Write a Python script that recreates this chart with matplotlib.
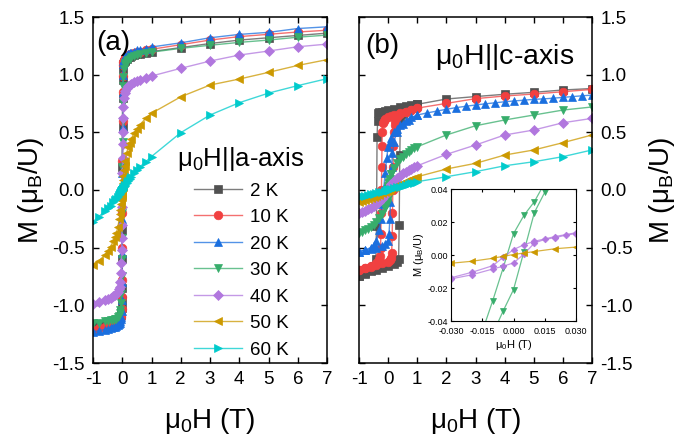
import matplotlib.pyplot as plt
from matplotlib.colors import to_rgba
from matplotlib.ticker import FormatStrFormatter

plt.rcParams['font.family'] = ['Liberation Sans', 'DejaVu Sans']
plt.rcParams['mathtext.default'] = 'regular'
plt.rcParams['axes.unicode_minus'] = False

# --- Data ---

TEMPS = ['2 K', '10 K', '20 K', '30 K', '40 K', '50 K', '60 K']

# panel (a): H || a-axis, field sweep 7 T -> -1 T
H_A = [7, 6, 5, 4, 3, 2, 1, 0.8, 0.6, 0.5, 0.4, 0.3, 0.25, 0.2, 0.15, 0.1, 0.08, 0.06,
       0.04, 0.03, 0.02, 0.015, 0.01, 0.005, 0.0, -0.005, -0.01, -0.015, -0.02, -0.03,
       -0.04, -0.06, -0.08, -0.1, -0.15, -0.2, -0.25, -0.3, -0.4, -0.5, -0.6, -0.8, -1.0]

M_A_2K = [1.36, 1.34, 1.32, 1.30, 1.27, 1.235, 1.20, 1.19, 1.18, 1.175, 1.17, 1.16, 1.155,
          1.15, 1.14, 1.13, 1.12, 1.11, 1.09, 1.05, 0.95, 0.8, 0.55, 0.2, -0.35, -0.6, -0.85,
          -0.95, -1.02, -1.06, -1.08, -1.10, -1.11, -1.12, -1.13, -1.14, -1.145, -1.15,
          -1.155, -1.16, -1.165, -1.175, -1.185]
M_A_10K = [1.385, 1.37, 1.35, 1.33, 1.30, 1.26, 1.22, 1.21, 1.20, 1.195, 1.19, 1.18, 1.175,
           1.17, 1.16, 1.15, 1.14, 1.13, 1.11, 1.08, 0.99, 0.85, 0.6, 0.25, -0.2, -0.5, -0.78,
           -0.93, -1.03, -1.08, -1.10, -1.12, -1.13, -1.14, -1.15, -1.16, -1.165, -1.17,
           -1.18, -1.185, -1.19, -1.20, -1.21]
M_A_20K = [1.415, 1.40, 1.367, 1.349, 1.32, 1.276, 1.24, 1.225, 1.215, 1.21, 1.20, 1.19,
           1.185, 1.18, 1.17, 1.16, 1.15, 1.14, 1.12, 1.09, 1.0, 0.85, 0.55, 0.15, -0.25,
           -0.55, -0.8, -0.95, -1.05, -1.10, -1.12, -1.14, -1.15, -1.16, -1.17, -1.18,
           -1.185, -1.19, -1.20, -1.205, -1.21, -1.22, -1.23]
M_A_30K = [1.343, 1.325, 1.30, 1.28, 1.255, 1.228, 1.195, 1.185, 1.175, 1.17, 1.16, 1.15,
           1.14, 1.13, 1.12, 1.10, 1.08, 1.05, 0.98, 0.9, 0.75, 0.6, 0.42, 0.2, 0.0, -0.2,
           -0.42, -0.6, -0.75, -0.9, -0.98, -1.04, -1.07, -1.09, -1.105, -1.115, -1.12,
           -1.125, -1.13, -1.135, -1.14, -1.15, -1.155]
M_A_40K = [1.265, 1.242, 1.205, 1.17, 1.118, 1.055, 0.988, 0.97, 0.955, 0.945, 0.935, 0.92,
           0.91, 0.9, 0.885, 0.86, 0.84, 0.8, 0.72, 0.62, 0.5, 0.4, 0.28, 0.15, 0.0, -0.15,
           -0.3, -0.42, -0.52, -0.63, -0.72, -0.8, -0.84, -0.86, -0.885, -0.9, -0.91, -0.92,
           -0.935, -0.945, -0.955, -0.97, -0.99]
M_A_50K = [1.13, 1.08, 1.02, 0.962, 0.91, 0.808, 0.665, 0.62, 0.565, 0.53, 0.49, 0.44, 0.41,
           0.37, 0.32, 0.25, 0.21, 0.17, 0.12, 0.09, 0.06, 0.045, 0.03, 0.015, 0.0, -0.015,
           -0.03, -0.045, -0.06, -0.09, -0.12, -0.17, -0.21, -0.25, -0.32, -0.37, -0.41,
           -0.44, -0.49, -0.53, -0.565, -0.615, -0.65]
M_A_60K = [0.965, 0.905, 0.84, 0.757, 0.65, 0.497, 0.29, 0.245, 0.2, 0.175, 0.145, 0.11,
           0.093, 0.075, 0.057, 0.04, 0.032, 0.024, 0.016, 0.012, 0.008, 0.006, 0.004, 0.002,
           0.0, -0.002, -0.004, -0.006, -0.008, -0.012, -0.016, -0.024, -0.032, -0.04, -0.057,
           -0.075, -0.09, -0.105, -0.135, -0.16, -0.185, -0.23, -0.275]

# panel (b): H || c-axis, down sweep (7 T -> -1 T) and up sweep (-1 T -> 1 T)
H_B_2K_DN = [7, 6, 5, 4, 3, 2, 1, 0.8, 0.6, 0.4, 0.2, 0, -0.1, -0.2, -0.3, -0.34, -0.36,
             -0.38, -0.4, -0.42, -0.5, -0.6, -0.8, -1]
M_B_2K_DN = [0.88, 0.867, 0.847, 0.83, 0.81, 0.789, 0.743, 0.735, 0.726, 0.716, 0.705,
             0.695, 0.688, 0.68, 0.672, 0.665, 0.6, 0.457, -0.31, -0.6, -0.66, -0.69, -0.72,
             -0.745]
H_B_2K_UP = [-1, -0.8, -0.6, -0.4, -0.2, 0, 0.2, 0.3, 0.36, 0.38, 0.4, 0.42, 0.5, 0.6, 0.8, 1]
M_B_2K_UP = [-0.745, -0.725, -0.705, -0.69, -0.675, -0.66, -0.64, -0.62, -0.6, -0.3, 0.3,
             0.6, 0.66, 0.69, 0.72, 0.743]

H_B_10K_DN = [7, 6, 5, 4, 3, 2, 1, 0.8, 0.6, 0.4, 0.2, 0.1, 0, -0.1, -0.15, -0.18, -0.2,
              -0.21, -0.22, -0.23, -0.24, -0.25, -0.26, -0.28, -0.3, -0.4, -0.6, -0.8, -1]
M_B_10K_DN = [0.872, 0.852, 0.832, 0.815, 0.792, 0.751, 0.71, 0.695, 0.68, 0.665, 0.65,
              0.64, 0.63, 0.615, 0.6, 0.58, 0.5, 0.38, 0.2, 0.0, -0.2, -0.38, -0.5, -0.57,
              -0.6, -0.63, -0.66, -0.68, -0.69]
H_B_10K_UP = [-1, -0.8, -0.6, -0.4, -0.2, 0, 0.05, 0.1, 0.12, 0.14, 0.15, 0.16, 0.17, 0.18,
              0.2, 0.22, 0.25, 0.3, 0.4, 0.6, 0.8, 1]
M_B_10K_UP = [-0.69, -0.68, -0.665, -0.65, -0.635, -0.62, -0.61, -0.59, -0.55, -0.4, -0.2,
              0.0, 0.2, 0.38, 0.5, 0.56, 0.6, 0.63, 0.655, 0.68, 0.695, 0.71]

H_B_20K_DN = [7, 6.67, 6.33, 6, 5.67, 5.33, 5, 4.67, 4.33, 4, 3.67, 3.33, 3, 2.67, 2.33, 2,
              1.67, 1.33, 1, 0.8, 0.6, 0.4, 0.3, 0.2, 0.1, 0.05, 0, -0.05, -0.1, -0.15, -0.2,
              -0.25, -0.3, -0.4, -0.5, -0.6, -0.8, -1]
M_B_20K_DN = [0.823, 0.817, 0.81, 0.803, 0.796, 0.79, 0.786, 0.779, 0.772, 0.765, 0.756,
              0.747, 0.737, 0.726, 0.714, 0.70, 0.684, 0.668, 0.65, 0.63, 0.6, 0.56, 0.53,
              0.5, 0.45, 0.42, 0.37, 0.28, 0.15, 0.02, -0.12, -0.25, -0.35, -0.44, -0.48,
              -0.5, -0.52, -0.535]
H_B_20K_UP = [-1, -0.8, -0.6, -0.4, -0.2, -0.1, 0, 0.03, 0.06, 0.08, 0.1, 0.12, 0.15, 0.2,
              0.3, 0.5, 0.7, 1]
M_B_20K_UP = [-0.535, -0.52, -0.51, -0.5, -0.485, -0.47, -0.44, -0.38, -0.25, -0.1, 0.05,
              0.2, 0.32, 0.42, 0.5, 0.57, 0.61, 0.65]

H_B_DN = [7, 6, 5, 4, 3, 2, 1, 0.9, 0.8, 0.7, 0.6, 0.5, 0.4, 0.3, 0.2, 0.1, 0.05, 0.03, 0.02,
          0.01, 0.005, 0, -0.005, -0.01, -0.02, -0.03, -0.05, -0.1, -0.2, -0.3, -0.4, -0.5,
          -0.6, -0.7, -0.8, -0.9, -1]
M_B_30K_DN = [0.72, 0.693, 0.65, 0.607, 0.557, 0.477, 0.375, 0.36, 0.345, 0.328, 0.31, 0.29,
              0.265, 0.235, 0.195, 0.14, 0.095, 0.07, 0.055, 0.0323, 0.024, 0.0129, -0.008,
              -0.0278, -0.065, -0.085, -0.11, -0.15, -0.205, -0.245, -0.275, -0.3, -0.32,
              -0.335, -0.35, -0.36, -0.37]
M_B_40K_DN = [0.621, 0.583, 0.52, 0.477, 0.39, 0.309, 0.21, 0.198, 0.185, 0.172, 0.16, 0.145,
              0.125, 0.105, 0.08, 0.048, 0.026, 0.0135, 0.0112, 0.0083, 0.0062, 0.0033,
              -0.0015, -0.0065, -0.0105, -0.0138, -0.024, -0.046, -0.076, -0.1, -0.12, -0.137,
              -0.152, -0.165, -0.178, -0.19, -0.2]
M_B_50K_DN = [0.477, 0.41, 0.347, 0.303, 0.231, 0.182, 0.115, 0.105, 0.095, 0.085, 0.075,
              0.065, 0.055, 0.043, 0.03, 0.015, 0.008, 0.0048, 0.0038, 0.0021, 0.0012, 0.0003,
              -0.0008, -0.002, -0.0038, -0.005, -0.008, -0.015, -0.03, -0.042, -0.053, -0.063,
              -0.072, -0.08, -0.088, -0.097, -0.105]
M_B_60K_DN = [0.347, 0.289, 0.245, 0.21, 0.159, 0.115, 0.072, 0.065, 0.058, 0.051, 0.044,
              0.037, 0.03, 0.022, 0.015, 0.008, 0.004, 0.0024, 0.0016, 0.0008, 0.0004, 0.0,
              -0.0004, -0.0008, -0.0016, -0.0024, -0.004, -0.008, -0.015, -0.021, -0.027,
              -0.033, -0.039, -0.044, -0.049, -0.054, -0.058]

H_B_UP = [-0.1, -0.05, -0.03, -0.02, -0.01, -0.005, 0, 0.005, 0.01, 0.015, 0.02, 0.025, 0.03,
          0.05, 0.1]
M_B_30K_UP = [-0.16, -0.125, -0.1, -0.075, -0.048, -0.034, -0.021, 0.002, 0.0257, 0.038,
              0.05, 0.058, 0.065, 0.09, 0.14]
M_B_40K_UP = [-0.047, -0.028, -0.0145, -0.012, -0.0085, -0.0068, -0.0048, 0.0005, 0.0072,
              0.0095, 0.0105, 0.012, 0.013, 0.025, 0.048]

COLORS = ['#515151', '#F14040', '#1A6FDF', '#37AD6B', '#B177DE', '#CC9900', '#00CBCC']
MARKERS = ['s', 'o', '^', 'v', 'D', '<', '>']


def draw(ax, h, m, i, ms=6.2, lw=1.0, label=None):
    size = ms * 0.85 if MARKERS[i] == 'D' else ms
    ax.plot(h, m, color=to_rgba(COLORS[i], 0.75), lw=lw, marker=MARKERS[i], ms=size,
            mfc=COLORS[i], mec=COLORS[i], mew=0.5, label=label)


def style_main(ax):
    ax.set_xlim(-1, 7)
    ax.set_ylim(-1.5, 1.5)
    ax.set_xticks(range(-1, 8))
    ax.set_yticks([-1.5, -1.0, -0.5, 0.0, 0.5, 1.0, 1.5])
    ax.yaxis.set_major_formatter(FormatStrFormatter('%.1f'))
    ax.tick_params(direction='in', top=True, right=True, length=4.5, width=1,
                   labelsize=13.5, pad=6)
    for s in ax.spines.values():
        s.set_linewidth(1.1)
    ax.set_xlabel('μ$_0$H (T)', fontsize=20, labelpad=13)


# --- Figure ---

fig = plt.figure(figsize=(6.89, 4.44), dpi=100)
W, H = 689, 444
ax_a = fig.add_axes([93 / W, 1 - 363 / H, 234 / W, 346 / H])
ax_b = fig.add_axes([359 / W, 1 - 363 / H, 233 / W, 346 / H])
ax_in = fig.add_axes([451 / W, 1 - 321 / H, 125 / W, 132 / H])

series_a = [M_A_2K, M_A_10K, M_A_20K, M_A_30K, M_A_40K, M_A_50K, M_A_60K]
for i, m in enumerate(series_a):
    draw(ax_a, H_A, m, i, label=TEMPS[i])

style_main(ax_a)
ax_a.set_ylabel('M (μ$_B$/U)', fontsize=20, labelpad=4)
ax_a.text(0.015, 0.925, '(a)', transform=ax_a.transAxes, fontsize=20, va='center')
ax_a.legend(loc='upper left', bbox_to_anchor=(0.36, 0.63), frameon=False,
            title='μ$_0$H||a-axis', title_fontsize=18.5, fontsize=13.5, borderpad=0,
            borderaxespad=0, handlelength=2.6, handletextpad=0.4, labelspacing=0.5,
            numpoints=1)

# panel (b)
draw(ax_b, H_B_2K_DN, M_B_2K_DN, 0)
draw(ax_b, H_B_2K_UP, M_B_2K_UP, 0)
draw(ax_b, H_B_10K_DN, M_B_10K_DN, 1)
draw(ax_b, H_B_10K_UP, M_B_10K_UP, 1)
draw(ax_b, H_B_20K_DN, M_B_20K_DN, 2)
draw(ax_b, H_B_20K_UP, M_B_20K_UP, 2)
draw(ax_b, H_B_DN, M_B_30K_DN, 3)
draw(ax_b, H_B_UP, M_B_30K_UP, 3)
draw(ax_b, H_B_DN, M_B_40K_DN, 4)
draw(ax_b, H_B_UP, M_B_40K_UP, 4)
draw(ax_b, H_B_DN, M_B_50K_DN, 5)
draw(ax_b, H_B_DN, M_B_60K_DN, 6)

style_main(ax_b)
ax_b.tick_params(labelleft=False, labelright=True)
ax_b.yaxis.set_label_position('right')
ax_b.set_ylabel('M (μ$_B$/U)', fontsize=20, labelpad=10)
ax_b.text(0.026, 0.915, '(b)', transform=ax_b.transAxes, fontsize=20, va='center')
ax_b.text(0.627, 0.885, 'μ$_0$H||c-axis', transform=ax_b.transAxes, fontsize=20.5,
          ha='center', va='center')

# inset: low-field loops
draw(ax_in, H_B_DN, M_B_30K_DN, 3, ms=4, lw=0.9)
draw(ax_in, H_B_UP, M_B_30K_UP, 3, ms=4, lw=0.9)
draw(ax_in, H_B_DN, M_B_40K_DN, 4, ms=4, lw=0.9)
draw(ax_in, H_B_UP, M_B_40K_UP, 4, ms=4, lw=0.9)
draw(ax_in, H_B_DN, M_B_50K_DN, 5, ms=4, lw=0.9)
ax_in.set_xlim(-0.03, 0.03)
ax_in.set_ylim(-0.04, 0.04)
ax_in.set_xticks([-0.03, -0.015, 0.0, 0.015, 0.03])
ax_in.set_yticks([-0.04, -0.02, 0.0, 0.02, 0.04])
ax_in.xaxis.set_major_formatter(FormatStrFormatter('%.3f'))
ax_in.yaxis.set_major_formatter(FormatStrFormatter('%.2f'))
ax_in.tick_params(direction='in', top=True, right=True, length=2.5, width=0.8,
                  labelsize=6.5, pad=2)
ax_in.tick_params(axis='x', pad=4)
ax_in.set_xlabel('μ$_0$H (T)', fontsize=8, labelpad=1.5)
ax_in.set_ylabel('M (μ$_B$/U)', fontsize=8, labelpad=1.5)

plt.savefig('out.png', dpi=100)
